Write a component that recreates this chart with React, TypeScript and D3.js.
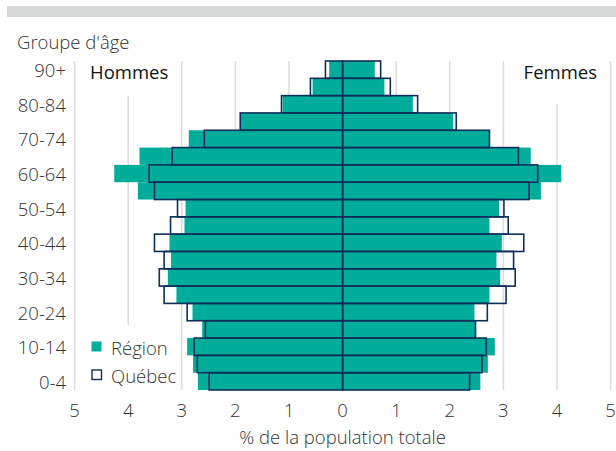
import * as d3 from 'd3';
import React, { useEffect, useRef } from 'react';

const ageGroups = [
  '0-4', '5-9', '10-14', '15-19', '20-24', '25-29', '30-34', '35-39', '40-44', '45-49',
  '50-54', '55-59', '60-64', '65-69', '70-74', '75-79', '80-84', '85-89', '90+',
];

// % of total population, from 0-4 up to 90+
const hommesRegion = [2.7, 2.79, 2.9, 2.62, 2.8, 3.1, 3.26, 3.2, 3.23, 2.95, 2.93, 3.82, 4.26, 3.79, 2.87, 1.91, 1.12, 0.56, 0.25];
const hommesQuebec = [2.49, 2.71, 2.77, 2.56, 2.9, 3.33, 3.42, 3.33, 3.51, 3.21, 3.08, 3.51, 3.61, 3.18, 2.58, 1.91, 1.14, 0.6, 0.32];
const femmesRegion = [2.57, 2.71, 2.84, 2.47, 2.46, 2.74, 2.94, 2.87, 2.97, 2.74, 2.92, 3.7, 4.08, 3.51, 2.74, 2.06, 1.31, 0.78, 0.6];
const femmesQuebec = [2.37, 2.6, 2.68, 2.48, 2.7, 3.05, 3.22, 3.19, 3.38, 3.09, 3.01, 3.48, 3.64, 3.28, 2.74, 2.12, 1.4, 0.89, 0.71];

const xTicks = [-5, -4, -3, -2, -1, 0, 1, 2, 3, 4, 5];
const yLabels = ['0-4', '10-14', '20-24', '30-34', '40-44', '50-54', '60-64', '70-74', '80-84', '90+'];

const TEAL = '#00ad9a';
const NAVY = '#0f2f5a';
const FONT = '"Open Sans", "Noto Sans", sans-serif';
const FS = 18.5;

export default function App() {
  const ref = useRef<SVGSVGElement | null>(null);

  useEffect(() => {
    const svg = d3.select(ref.current);
    svg.selectAll('*').remove();

    const x = d3.scaleLinear().domain([-5, 5]).range([74.6, 610.6]);
    const y = d3
      .scaleBand<string>()
      .domain([...ageGroups].reverse())
      .range([61, 390])
      .padding(0);

    // top grey band
    svg.append('rect').attr('x', 7).attr('y', 6).attr('width', 609).attr('height', 11).attr('fill', '#d6d8d8');

    // gridlines
    svg
      .append('g')
      .selectAll('line')
      .data(xTicks.filter(t => t !== 0))
      .join('line')
      .attr('x1', d => x(d))
      .attr('x2', d => x(d))
      .attr('y1', 61)
      .attr('y2', 390)
      .attr('stroke', '#dcdcdc')
      .attr('stroke-width', 1.5);

    // white boxes behind the labels (they hide the gridlines)
    svg.append('rect').attr('x', 84).attr('y', 60).attr('width', 88).attr('height', 36).attr('fill', '#fff');
    svg.append('rect').attr('x', 516).attr('y', 60).attr('width', 88).attr('height', 44).attr('fill', '#fff');
    svg.append('rect').attr('x', 82).attr('y', 325).attr('width', 92).attr('height', 66).attr('fill', '#fff');

    const bh = y.bandwidth();

    // Région bars
    const region = svg.append('g');
    region
      .selectAll('rect.h')
      .data(ageGroups)
      .join('rect')
      .attr('class', 'h')
      .attr('x', (_, i) => x(-hommesRegion[i]))
      .attr('y', d => y(d)!)
      .attr('width', (_, i) => x(0) - x(-hommesRegion[i]))
      .attr('height', bh)
      .attr('fill', TEAL);
    region
      .selectAll('rect.f')
      .data(ageGroups)
      .join('rect')
      .attr('class', 'f')
      .attr('x', x(0))
      .attr('y', d => y(d)!)
      .attr('width', (_, i) => x(femmesRegion[i]) - x(0))
      .attr('height', bh)
      .attr('fill', TEAL);

    // Québec outlines
    const quebec = svg.append('g').attr('fill', 'none').attr('stroke', NAVY).attr('stroke-width', 1.6);
    quebec
      .selectAll('rect.h')
      .data(ageGroups)
      .join('rect')
      .attr('class', 'h')
      .attr('x', (_, i) => x(-hommesQuebec[i]))
      .attr('y', d => y(d)!)
      .attr('width', (_, i) => x(0) - x(-hommesQuebec[i]))
      .attr('height', bh);
    quebec
      .selectAll('rect.f')
      .data(ageGroups)
      .join('rect')
      .attr('class', 'f')
      .attr('x', x(0))
      .attr('y', d => y(d)!)
      .attr('width', (_, i) => x(femmesQuebec[i]) - x(0))
      .attr('height', bh);

    // y labels
    svg
      .append('g')
      .selectAll('text')
      .data(yLabels)
      .join('text')
      .attr('x', 66)
      .attr('y', d => y(d)! + bh / 2)
      .attr('text-anchor', 'end')
      .attr('dominant-baseline', 'central')
      .attr('font-family', FONT)
      .attr('font-weight', 300)
      .attr('font-size', FS)
      .attr('fill', '#333')
      .text(d => d);

    svg
      .append('text')
      .attr('x', 17)
      .attr('y', 49)
      .attr('font-family', FONT)
      .attr('font-weight', 300)
      .attr('font-size', FS)
      .attr('fill', '#333')
      .text("Groupe d'âge");

    // x tick labels
    svg
      .append('g')
      .selectAll('text')
      .data(xTicks)
      .join('text')
      .attr('x', d => x(d))
      .attr('y', 417)
      .attr('text-anchor', 'middle')
      .attr('font-family', FONT)
      .attr('font-weight', 300)
      .attr('font-size', FS)
      .attr('fill', '#333')
      .text(d => Math.abs(d));

    svg
      .append('text')
      .attr('x', x(0))
      .attr('y', 444)
      .attr('text-anchor', 'middle')
      .attr('font-family', FONT)
      .attr('font-weight', 300)
      .attr('font-size', FS)
      .attr('fill', '#333')
      .text('% de la population totale');

    // sex labels
    svg
      .append('text')
      .attr('x', 90)
      .attr('y', 79)
      .attr('font-family', FONT)
      .attr('font-size', FS)
      .attr('fill', '#111')
      .text('Hommes');
    svg
      .append('text')
      .attr('x', 597)
      .attr('y', 79)
      .attr('text-anchor', 'end')
      .attr('font-family', FONT)
      .attr('font-size', FS)
      .attr('fill', '#111')
      .text('Femmes');

    // legend
    const legend = svg.append('g').attr('transform', 'translate(91,341)');
    legend.append('rect').attr('x', 0.5).attr('y', 0.5).attr('width', 10).attr('height', 10).attr('fill', TEAL);
    legend
      .append('text')
      .attr('x', 20)
      .attr('y', 6)
      .attr('dominant-baseline', 'central')
      .attr('font-family', FONT)
      .attr('font-weight', 300)
      .attr('font-size', FS)
      .attr('fill', '#333')
      .text('Région');
    legend
      .append('rect')
      .attr('x', 1)
      .attr('y', 29)
      .attr('width', 9.5)
      .attr('height', 9.5)
      .attr('fill', '#fff')
      .attr('stroke', NAVY)
      .attr('stroke-width', 1.4);
    legend
      .append('text')
      .attr('x', 20)
      .attr('y', 34)
      .attr('dominant-baseline', 'central')
      .attr('font-family', FONT)
      .attr('font-weight', 300)
      .attr('font-size', FS)
      .attr('fill', '#333')
      .text('Québec');
  }, []);

  return (
    <svg
      ref={ref}
      width={616}
      height={451}
      style={{ position: 'absolute', left: 0, top: 0, background: '#fff' }}
    />
  );
}
